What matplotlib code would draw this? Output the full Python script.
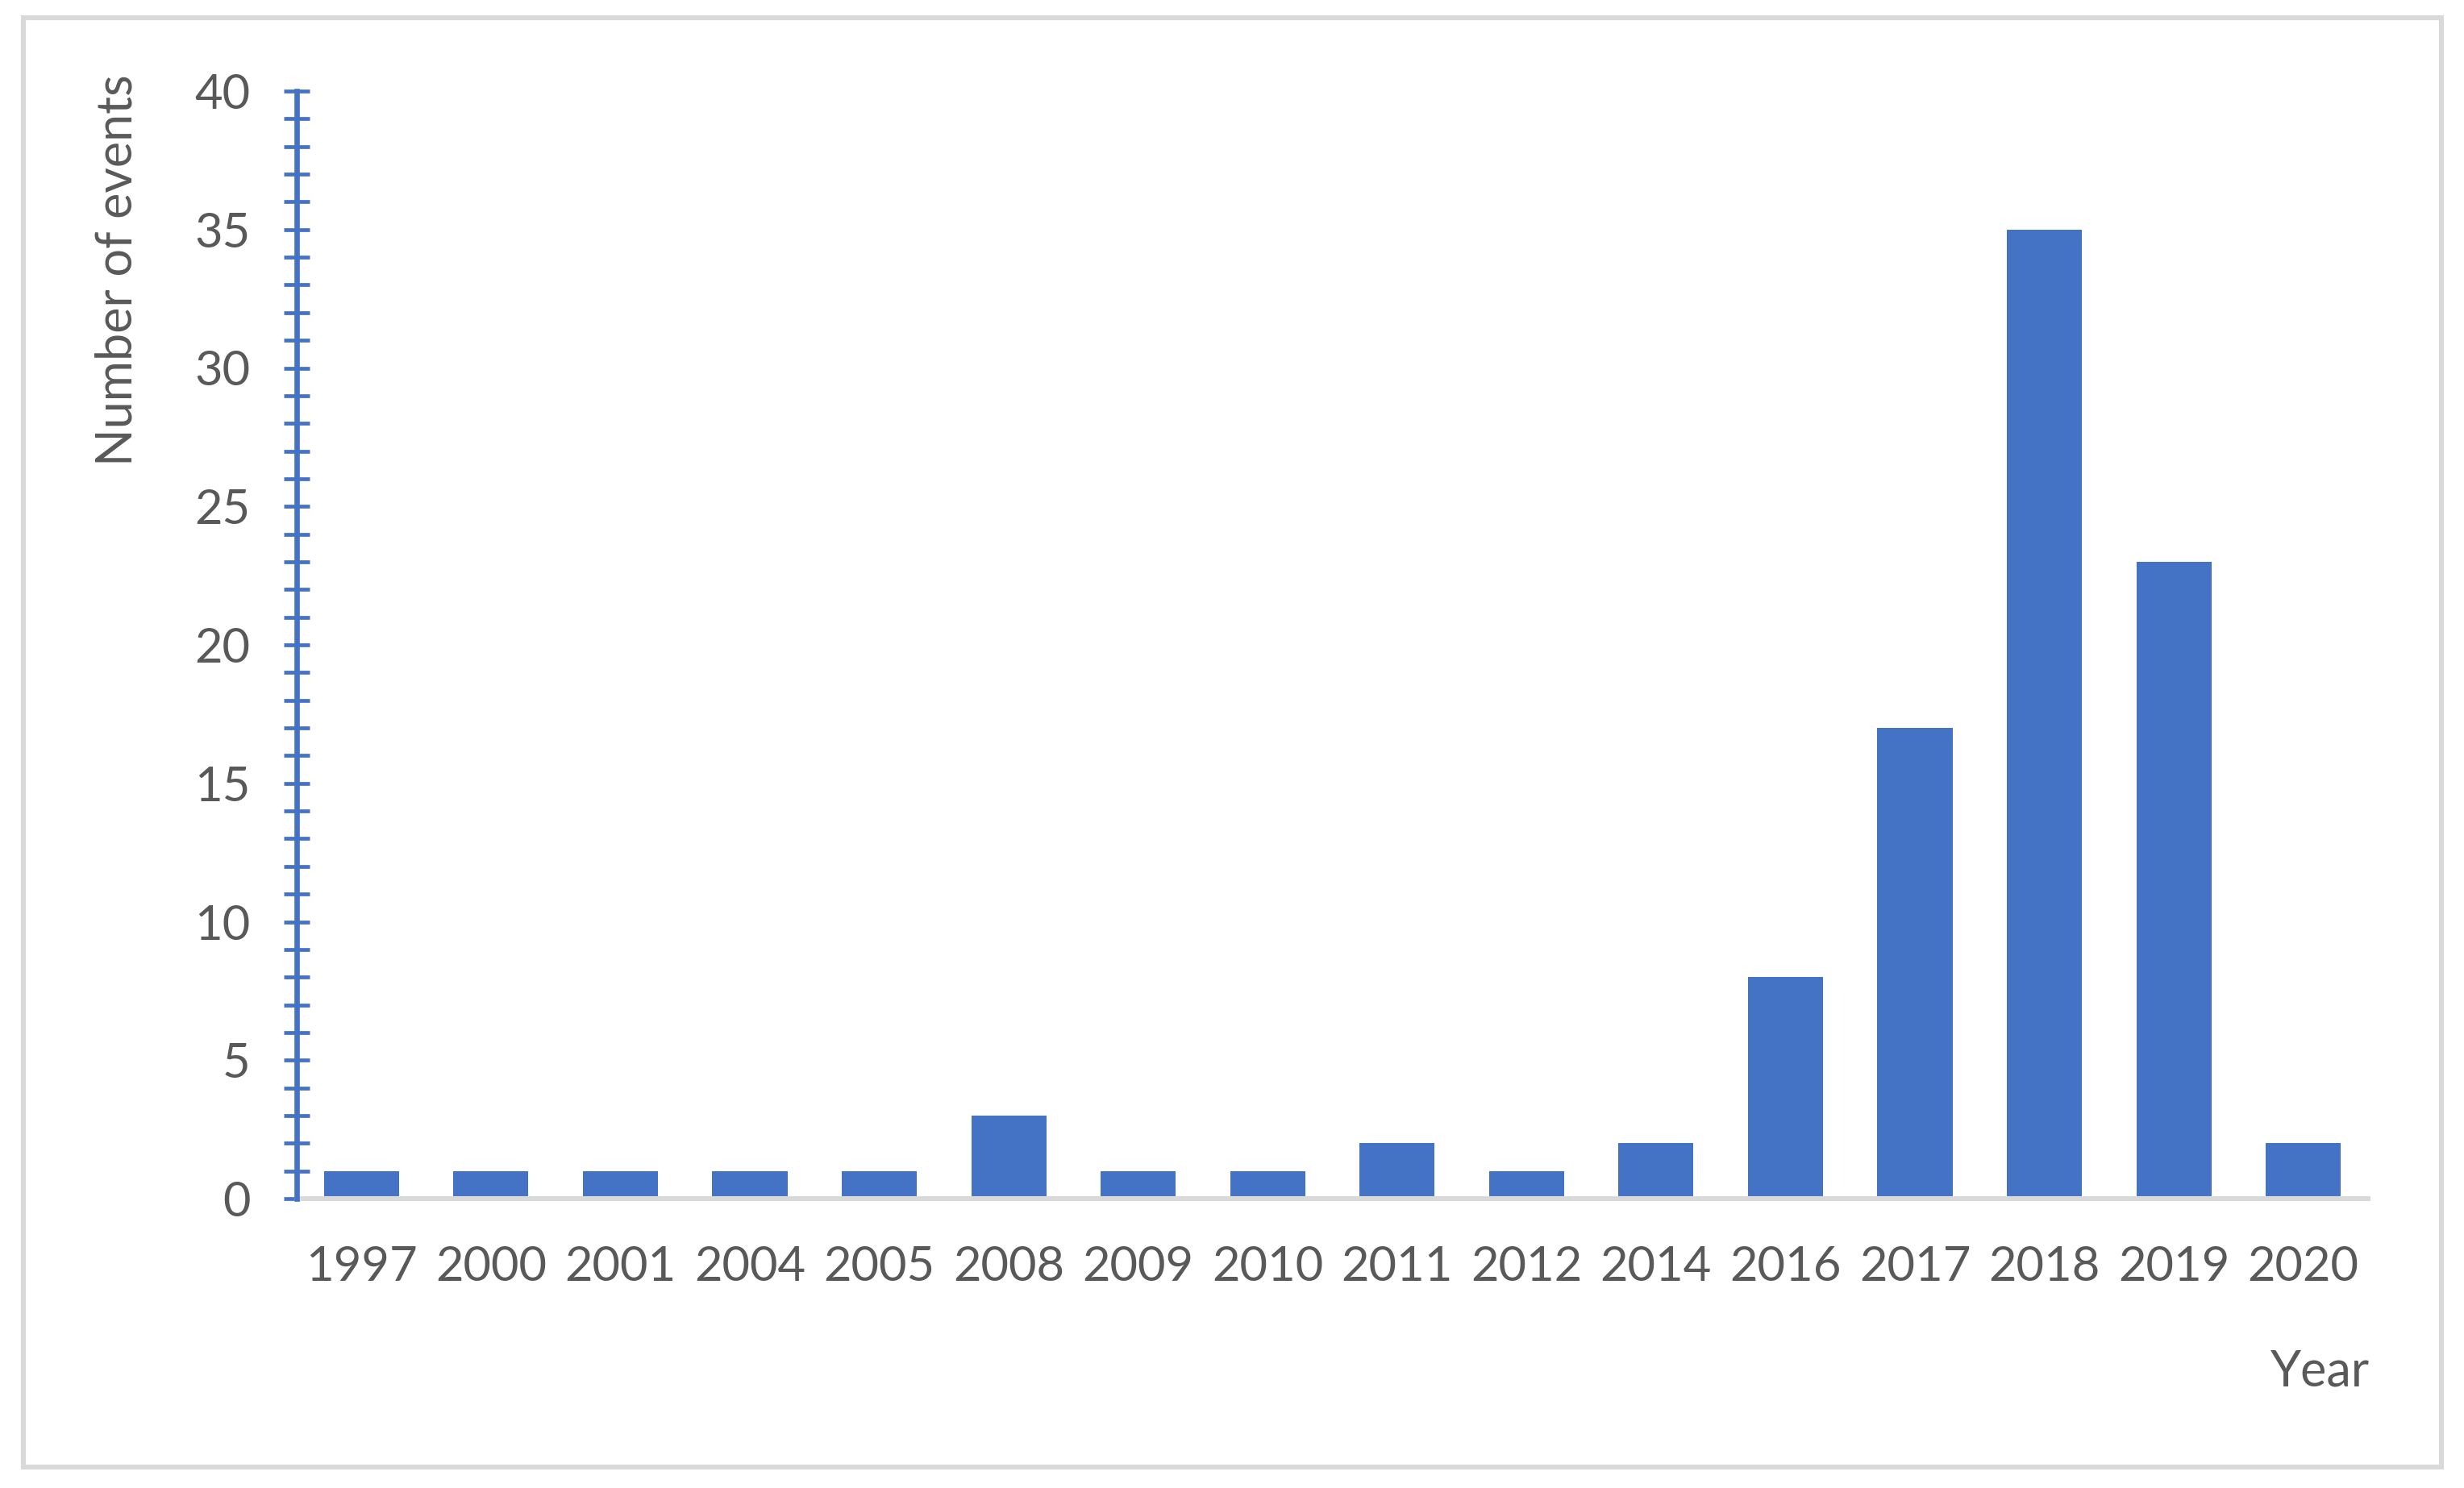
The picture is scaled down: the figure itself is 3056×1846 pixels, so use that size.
import matplotlib
matplotlib.use("Agg")
import matplotlib.pyplot as plt
from matplotlib.patches import Rectangle
from matplotlib.ticker import MultipleLocator
import numpy as np

# data
years = ["1997", "2000", "2001", "2004", "2005", "2008", "2009", "2010",
         "2011", "2012", "2014", "2016", "2017", "2018", "2019", "2020"]
events = [1, 1, 1, 1, 1, 3, 1, 1, 2, 1, 2, 8, 17, 35, 23, 2]

W, H = 3056, 1846
DPI = 200
blue = "#4472C4"
txt = "#595959"
grey = "#D9D9D9"

plt.rcParams['font.family'] = ['Lato', 'DejaVu Sans']

fig = plt.figure(figsize=(W / DPI, H / DPI), dpi=DPI)
ax = fig.add_axes([368 / W, 1 - 1487 / H, (2937 - 368) / W, (1487 - 113) / H])

x = np.arange(len(years))
ax.bar(x, events, width=0.58, color=blue, zorder=2)

ax.set_xlim(-0.5, len(years) - 0.5)
ax.set_ylim(0, 40)
ax.set_xticks(x)
ax.set_xticklabels(years)
ax.yaxis.set_major_locator(MultipleLocator(5))
ax.yaxis.set_minor_locator(MultipleLocator(1))

for s in ["top", "right"]:
    ax.spines[s].set_visible(False)
ax.spines["left"].set_color(blue)
ax.spines["left"].set_linewidth(2.4)
ax.spines["bottom"].set_color(grey)
ax.spines["bottom"].set_linewidth(2.2)
ax.spines["left"].set_zorder(3)

ax.tick_params(axis="y", which="both", direction="inout", length=11.5,
               width=1.7, color=blue, labelsize=21.5, labelcolor=txt, pad=15)
ax.tick_params(axis="x", length=0, labelsize=21.5, labelcolor=txt, pad=21)

fig.text(146 / W, 1 - 335 / H, "Number of events", rotation=90, ha="center",
         va="center", fontsize=22, color=txt)
fig.text(2939 / W, 1 - 1720 / H, "Year", ha="right", va="baseline",
         fontsize=22, color=txt)

# outer chart frame
fig.patches.append(Rectangle((29 / W, 1 - 1820 / H), (3028 - 29) / W, (1820 - 22) / H,
                             transform=fig.transFigure, fill=False,
                             edgecolor=grey, linewidth=2.2))

fig.savefig("out.png", dpi=DPI, facecolor="white")
